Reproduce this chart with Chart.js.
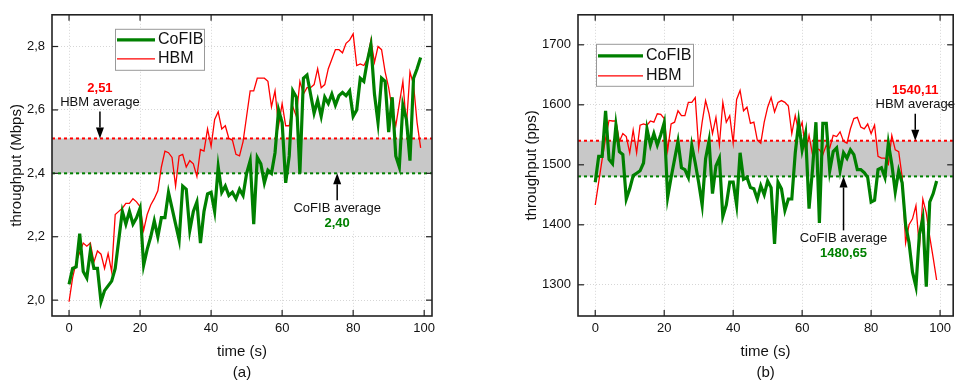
<!DOCTYPE html>
<html>
<head>
<meta charset="utf-8">
<script src="https://cdn.jsdelivr.net/npm/chart.js@4.4.1/dist/chart.umd.min.js"></script>
<style>
  html, body { margin: 0; padding: 0; background: #fff; }
  #wrap { position: relative; width: 956px; height: 385px; }
  .box { position: absolute; top: 0; width: 478px; height: 385px; }
</style>
</head>
<body>
<div id="wrap">
  <div class="box" style="left:0"><canvas id="chart_a"></canvas></div>
  <div class="box" style="left:478px"><canvas id="chart_b"></canvas></div>
</div>
<script>
// sample times (s), one sample per second
var time = [];
for (var i = 0; i < 100; i++) time.push(i);

// (a) throughput in Mbps
var cofibMbps = [
  2.05, 2.10, 2.105, 2.21, 2.09, 2.07, 2.155, 2.10, 2.10, 1.995,
  2.03, 2.045, 2.06, 2.10, 2.19, 2.28, 2.24, 2.28, 2.24, 2.26,
  2.29, 2.11, 2.16, 2.20, 2.25, 2.20, 2.26, 2.26, 2.34, 2.29,
  2.24, 2.19, 2.36, 2.35, 2.22, 2.28, 2.31, 2.18, 2.28, 2.335,
  2.34, 2.28, 2.42, 2.34, 2.36, 2.33, 2.34, 2.32, 2.35, 2.33,
  2.40, 2.44, 2.24, 2.45, 2.43, 2.37, 2.41, 2.40, 2.465, 2.60,
  2.56, 2.37, 2.455, 2.66, 2.64, 2.40, 2.70, 2.71, 2.65, 2.59,
  2.63, 2.58, 2.64, 2.62, 2.65, 2.615, 2.645, 2.655, 2.645, 2.66,
  2.58, 2.60, 2.70, 2.69, 2.755, 2.805, 2.65, 2.56, 2.70, 2.69,
  2.53, 2.64, 2.455, 2.42, 2.615, 2.57, 2.44, 2.70, 2.73, 2.765
];
var hbmMbps = [
  1.995, 2.07, 2.12, 2.15, 2.18, 2.17, 2.18, 2.12, 2.155, 2.145,
  2.10, 2.147, 2.09, 2.27, 2.28, 2.29, 2.305, 2.305, 2.32, 2.31,
  2.295, 2.22, 2.27, 2.30, 2.32, 2.345, 2.42, 2.47, 2.465, 2.45,
  2.36, 2.455, 2.46, 2.42, 2.44, 2.43, 2.39, 2.475, 2.47, 2.54,
  2.485, 2.57, 2.594, 2.54, 2.55, 2.51, 2.505, 2.46, 2.455, 2.50,
  2.58, 2.66, 2.66, 2.70, 2.70, 2.70, 2.69, 2.61, 2.66, 2.55,
  2.62, 2.55, 2.55, 2.61, 2.58, 2.69, 2.65, 2.67, 2.67, 2.68,
  2.73, 2.67, 2.68, 2.73, 2.76, 2.79, 2.79, 2.78, 2.81, 2.82,
  2.84, 2.74, 2.745, 2.74, 2.76, 2.82, 2.75, 2.80, 2.79, 2.72,
  2.67, 2.60, 2.55, 2.62, 2.69, 2.55, 2.72, 2.68, 2.56, 2.48
];
var avgMbps = { hbm: 2.51, cofib: 2.40 };
var ticksMbps = [2.0, 2.2, 2.4, 2.6, 2.8];

// (b) throughput in packets per second
var cofibPps = [
  1471, 1514, 1514, 1590, 1509, 1502, 1566, 1522, 1517, 1443,
  1460, 1482, 1486, 1490, 1503, 1560, 1533, 1552, 1533, 1550,
  1570, 1446, 1479, 1509, 1539, 1495, 1492, 1479, 1532, 1503,
  1470, 1433, 1510, 1540, 1452, 1498, 1511, 1414, 1433, 1471,
  1471, 1433, 1520, 1476, 1479, 1462, 1460, 1443, 1465, 1450,
  1473, 1462, 1368, 1471, 1460, 1424, 1443, 1443, 1520, 1571,
  1525, 1552, 1427, 1492, 1571, 1403, 1569, 1569, 1490, 1522,
  1528, 1490, 1520, 1511, 1525, 1517, 1492, 1492, 1487, 1479,
  1438, 1441, 1492, 1495, 1479, 1536, 1501, 1455, 1490, 1470,
  1400, 1370, 1321, 1297, 1384, 1411, 1297, 1438, 1452, 1473
];
var hbmPps = [
  1433, 1471, 1509, 1544, 1574, 1573, 1573, 1539, 1552, 1547,
  1520, 1558, 1520, 1566, 1568, 1566, 1573, 1571, 1585, 1584,
  1577, 1524, 1568, 1571, 1590, 1582, 1582, 1604, 1604, 1612,
  1528, 1571, 1607, 1585, 1552, 1579, 1533, 1604, 1571, 1582,
  1536, 1609, 1624, 1590, 1596, 1569, 1571, 1541, 1536, 1571,
  1596, 1612, 1588, 1604, 1607, 1604, 1598, 1552, 1582, 1555,
  1571, 1522, 1549, 1517, 1528, 1525, 1517, 1533, 1528, 1549,
  1547, 1555, 1539, 1536, 1560, 1577, 1579, 1563, 1560, 1568,
  1552, 1566, 1514, 1511, 1511, 1501, 1549, 1525, 1522, 1480,
  1370, 1400, 1410, 1432, 1362, 1443, 1420, 1380, 1345, 1308
];
var avgPps = { hbm: 1540.11, cofib: 1480.65 };
var ticksPps = [1300, 1400, 1500, 1600, 1700];

var timeTicks = [0, 20, 40, 60, 80, 100];

var GREEN = 'rgb(0,128,0)';
var RED = 'rgb(255,0,0)';
var FONT = "'Liberation Sans', Arial, sans-serif";

function comma(v, digits) {
  return v.toFixed(digits).replace('.', ',');
}

function points(values) {
  return values.map(function (v, i) { return { x: time[i], y: v }; });
}

// draws the box frame, inward ticks, legend and the average annotations
var framePlugin = {
  id: 'frame',
  afterDraw: function (chart, args, opts) {
    var ctx = chart.ctx, area = chart.chartArea;
    var xs = chart.scales.x, ys = chart.scales.y;
    ctx.save();

    function line(x1, y1, x2, y2) {
      ctx.beginPath(); ctx.moveTo(x1, y1); ctx.lineTo(x2, y2); ctx.stroke();
    }

    // annotations
    opts.notes.forEach(function (n) {
      var px = xs.getPixelForValue(n.x);
      var tip = ys.getPixelForValue(n.y);
      var tail = n.dir === 'down' ? tip - n.len : tip + n.len;
      var head = n.dir === 'down' ? -11 : 11;
      var nameY = n.dir === 'down' ? tail - 9 : tail + 8;
      var valY = n.dir === 'down' ? tail - 23 : tail + 23;
      ctx.font = '13px ' + FONT;
      ctx.textAlign = 'center';
      ctx.textBaseline = 'middle';
      if (n.bg) {
        var w = ctx.measureText(n.name).width + 8;
        ctx.fillStyle = '#fff';
        ctx.fillRect(px - w / 2, Math.min(nameY, valY) - 8, w, Math.abs(valY - nameY) + 16);
      }
      ctx.strokeStyle = '#000';
      ctx.fillStyle = '#000';
      ctx.lineWidth = 1.5;
      line(px, tail, px, tip + head);
      ctx.beginPath();
      ctx.moveTo(px, tip);
      ctx.lineTo(px - 4, tip + head);
      ctx.lineTo(px + 4, tip + head);
      ctx.closePath();
      ctx.fill();
      ctx.fillStyle = '#111';
      ctx.fillText(n.name, px, nameY);
      ctx.font = 'bold 13px ' + FONT;
      ctx.fillStyle = n.color;
      ctx.fillText(comma(n.y, 2), px, valY);
    });

    // legend
    var lg = opts.legend;
    var bx = area.left + lg.dx, by = area.top + lg.dy;
    ctx.fillStyle = '#fff';
    ctx.fillRect(bx, by, lg.w, lg.h);
    ctx.strokeStyle = '#999';
    ctx.lineWidth = 1;
    ctx.strokeRect(bx + 0.5, by + 0.5, lg.w, lg.h);
    ctx.font = '16px ' + FONT;
    ctx.textAlign = 'left';
    ctx.textBaseline = 'middle';
    chart.data.datasets.filter(function (d) { return d.inLegend; }).forEach(function (d, i) {
      var ry = by + lg.row0 + i * lg.gap;
      ctx.strokeStyle = d.borderColor;
      ctx.lineWidth = d.borderWidth;
      line(bx + 2, ry, bx + 2 + lg.sample, ry);
      ctx.fillStyle = '#111';
      ctx.fillText(d.label, bx + lg.sample + 5, ry);
    });

    // frame with inward ticks
    ctx.strokeStyle = '#222';
    ctx.lineWidth = 1.2;
    xs.ticks.forEach(function (t) {
      var p = xs.getPixelForValue(t.value);
      line(p, area.bottom, p, area.bottom - 6);
      line(p, area.top, p, area.top + 6);
    });
    ys.ticks.forEach(function (t) {
      var p = ys.getPixelForValue(t.value);
      line(area.left, p, area.left + 6, p);
      line(area.right, p, area.right - 6, p);
    });
    ctx.lineWidth = 1.6;
    ctx.strokeRect(area.left, area.top, area.right - area.left, area.bottom - area.top);
    ctx.restore();
  }
};

function makeChart(id, cfg) {
  var ctx = document.getElementById(id).getContext('2d');
  return new Chart(ctx, {
    type: 'line',
    data: {
      datasets: [{
        label: 'CoFIB',
        inLegend: true,
        data: points(cfg.cofib),
        borderColor: GREEN,
        borderWidth: 3.2,
        pointRadius: 0,
        tension: 0,
        fill: false
      }, {
        label: 'HBM',
        inLegend: true,
        data: points(cfg.hbm),
        borderColor: RED,
        borderWidth: 1.3,
        pointRadius: 0,
        tension: 0,
        fill: false
      }, {
        label: 'HBM average',
        data: [{ x: cfg.xMin, y: cfg.avg.hbm }, { x: cfg.xMax, y: cfg.avg.hbm }],
        borderColor: RED,
        borderWidth: 2,
        borderDash: [3, 3],
        pointRadius: 0,
        fill: false
      }, {
        label: 'CoFIB average',
        data: [{ x: cfg.xMin, y: cfg.avg.cofib }, { x: cfg.xMax, y: cfg.avg.cofib }],
        borderColor: GREEN,
        borderWidth: 2,
        borderDash: [3, 3],
        pointRadius: 0,
        backgroundColor: '#c8c8c8',
        fill: '-1'
      }]
    },
    options: {
      responsive: true,
      maintainAspectRatio: false,
      animation: false,
      devicePixelRatio: 1,
      layout: { padding: { left: 0, right: cfg.padRight, top: 9, bottom: 0 } },
      plugins: {
        legend: { display: false },
        tooltip: { enabled: false },
        filler: { drawTime: 'beforeDatasetsDraw' },
        frame: { legend: cfg.legend, notes: cfg.notes }
      },
      scales: {
        x: {
          type: 'linear',
          min: cfg.xMin,
          max: cfg.xMax,
          afterBuildTicks: function (s) { s.ticks = timeTicks.map(function (v) { return { value: v }; }); },
          afterFit: function (s) { s.height = 69; },
          grid: { color: '#d6d6d6', lineWidth: 1, drawTicks: false },
          border: { display: false, dash: [1, 2] },
          ticks: { padding: 5, maxRotation: 0, autoSkip: false, color: '#111', font: { family: FONT, size: 13 } },
          title: {
            display: true,
            text: ['time (s)', cfg.tag],
            color: '#111',
            font: { family: FONT, size: 15, lineHeight: 1.4 },
            padding: { top: 0, bottom: 1.5 }
          }
        },
        y: {
          min: cfg.yMin,
          max: cfg.yMax,
          afterBuildTicks: function (s) { s.ticks = cfg.yTicks.map(function (v) { return { value: v }; }); },
          afterFit: function (s) { s.width = cfg.yWidth; },
          grid: { color: '#d6d6d6', lineWidth: 1, drawTicks: false },
          border: { display: false, dash: [1, 2] },
          ticks: {
            padding: 7,
            color: '#111',
            font: { family: FONT, size: 13 },
            callback: function (v) { return comma(v, cfg.yDigits); }
          },
          title: {
            display: true,
            text: cfg.yTitle,
            color: '#111',
            font: { family: FONT, size: 15, lineHeight: 1.2 },
            padding: { top: cfg.yTitlePad, bottom: 0 }
          }
        }
      }
    },
    plugins: [framePlugin]
  });
}

// (a) Mbps
makeChart('chart_a', {
  cofib: cofibMbps, hbm: hbmMbps, avg: avgMbps, yTicks: ticksMbps, yDigits: 1,
  xMin: -4.8, xMax: 102.2, yMin: 1.95, yMax: 2.9,
  yWidth: 52, padRight: 46, yTitlePad: 8, yTitle: 'throughput (Mbps)', tag: '(a)',
  legend: { dx: 63, dy: 14, w: 89, h: 41, row0: 11, gap: 19, sample: 38 },
  notes: [
    { x: 8.7, y: avgMbps.hbm, dir: 'down', len: 27, name: 'HBM average', color: RED },
    { x: 75.5, y: avgMbps.cofib, dir: 'up', len: 27, name: 'CoFIB average', color: GREEN, bg: true }
  ]
});

// (b) pps
makeChart('chart_b', {
  cofib: cofibPps, hbm: hbmPps, avg: avgPps, yTicks: ticksPps, yDigits: 0,
  xMin: -5, xMax: 103.8, yMin: 1248, yMax: 1750,
  yWidth: 100, padRight: 2, yTitlePad: 45, yTitle: 'throughput (pps)', tag: '(b)',
  legend: { dx: 18, dy: 29, w: 97, h: 42, row0: 12, gap: 20, sample: 45 },
  notes: [
    { x: 92.8, y: avgPps.hbm, dir: 'down', len: 27, name: 'HBM average', color: RED },
    { x: 72, y: avgPps.cofib, dir: 'up', len: 54, name: 'CoFIB average', color: GREEN }
  ]
});
</script>
</body>
</html>
